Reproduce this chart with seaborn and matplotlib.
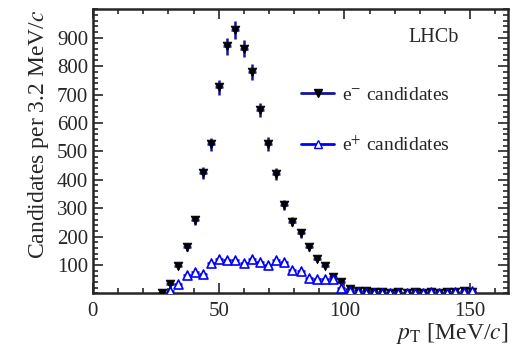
import matplotlib
matplotlib.use("Agg")
import matplotlib.pyplot as plt
import numpy as np
import pandas as pd
import seaborn as sns
from matplotlib.lines import Line2D
from matplotlib.ticker import MultipleLocator

# ----------------------------
# Data
# ----------------------------
BIN_START = 27.5
BIN_STEP = 3.24
HALF_WIDTH = 1.6

electron_counts = [
    3, 34, 96, 163, 257, 423, 525, 726, 870, 927,
    862, 778, 646, 526, 420, 311, 252, 211, 162, 120,
    98, 57, 40, 16, 10, 7, 5, 4, 3, 5,
    3, 4, 3, 4, 3, 5, 4, 10, 6,
]
positron_counts = [
    np.nan, 7, 32, 65, 75, 70, 107, 121, 118, 116,
    106, 122, 112, 100, 117, 109, 81, 80, 55, 50,
    52, 50, 18, 8, 5, 3, 2, 3, 2, 1,
    3, 2, 3, 4, 2, 3, 5, 4, 7,
]
series_labels = ["e$^{-}$ candidates", "e$^{+}$ candidates"]

pt_centres = BIN_START + BIN_STEP * np.arange(len(electron_counts))

df = pd.DataFrame({
    "pt": np.concatenate([pt_centres, pt_centres]),
    "count": np.concatenate([electron_counts, positron_counts]),
    "species": ["e-"] * len(pt_centres) + ["e+"] * len(pt_centres),
}).dropna()

# ----------------------------
# Style
# ----------------------------
sns.set_theme(style="ticks")
plt.rcParams["font.family"] = ["Liberation Serif", "DejaVu Serif"]
plt.rcParams["mathtext.fontset"] = "stix"
plt.rcParams["xtick.direction"] = "in"
plt.rcParams["ytick.direction"] = "in"

fig = plt.figure(figsize=(5.22, 3.46), dpi=100)
ax = fig.add_axes([0.178, 0.152, 0.795, 0.821])

NAVY = "#14149a"
BLUE = "#0000ff"

# error bars
for species, colour in [("e-", NAVY), ("e+", BLUE)]:
    sub = df[df.species == species]
    ax.errorbar(
        sub.pt, sub["count"],
        xerr=HALF_WIDTH, yerr=np.sqrt(sub["count"]),
        fmt="none", ecolor=colour, elinewidth=1.8, capsize=0, zorder=2,
    )

# markers
sns.scatterplot(
    data=df[df.species == "e-"], x="pt", y="count",
    marker="v", s=40, color="black", edgecolor="black",
    linewidth=0.5, ax=ax, zorder=3, legend=False,
)
sns.scatterplot(
    data=df[df.species == "e+"], x="pt", y="count",
    marker="^", s=42, facecolor="white", edgecolor=BLUE,
    linewidth=1.2, ax=ax, zorder=3, legend=False,
)

# ----------------------------
# Axes
# ----------------------------
ax.set_xlim(0, 165)
ax.set_ylim(0, 1000)
ax.set_xticks([0, 50, 100, 150])
ax.set_yticks(range(100, 1000, 100))
ax.xaxis.set_minor_locator(MultipleLocator(10))
ax.yaxis.set_minor_locator(MultipleLocator(20))
ax.tick_params(which="both", top=True, right=True, labelsize=15, width=1.2)
ax.tick_params(which="major", length=7)
ax.tick_params(which="minor", length=3.5)
ax.tick_params(axis="x", pad=6)
for spine in ax.spines.values():
    spine.set_linewidth(1.8)

ax.set_xlabel(r"$p_{\rm T}$ [MeV/$c$]", fontsize=17, loc="right", labelpad=0)
ax.set_ylabel(r"Candidates per 3.2 MeV/$c$", fontsize=17, loc="top", labelpad=4)

ax.text(0.882, 0.90, "LHCb", transform=ax.transAxes, ha="right",
        va="center", fontsize=14.5)

handles = [
    Line2D([], [], color=NAVY, lw=2, marker="v", markersize=6,
           markerfacecolor="black", markeredgecolor="black"),
    Line2D([], [], color=BLUE, lw=2, marker="^", markersize=6,
           markerfacecolor="white", markeredgecolor=BLUE),
]
ax.legend(handles, series_labels, loc="upper left",
          bbox_to_anchor=(0.46, 0.79), frameon=False, fontsize=14,
          handlelength=1.7, handletextpad=0.4, labelspacing=1.6)

fig.savefig("out.png", dpi=100)
